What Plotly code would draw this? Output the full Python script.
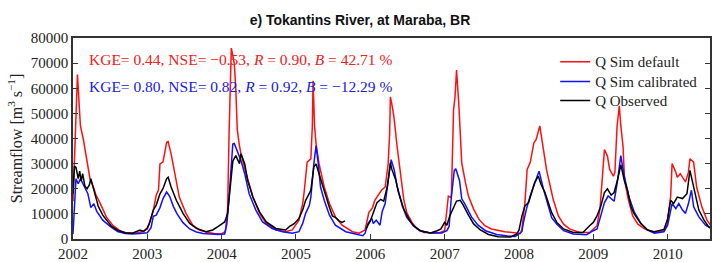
import plotly.graph_objects as go

# ---- data (decimal years, streamflow m3/s) ----
t_obs = [2002.00, 2002.02, 2002.04, 2002.07, 2002.09, 2002.11, 2002.13, 2002.16, 2002.19, 2002.22,
         2002.24, 2002.27, 2002.30, 2002.34, 2002.40, 2002.45, 2002.52, 2002.60, 2002.70, 2002.80,
         2002.86, 2002.90, 2002.95,
         2003.00, 2003.03, 2003.08, 2003.12, 2003.17, 2003.21, 2003.26, 2003.28, 2003.32, 2003.39,
         2003.48, 2003.57, 2003.66, 2003.79, 2003.88, 2003.95,
         2004.04, 2004.08, 2004.11, 2004.13, 2004.15, 2004.19, 2004.22, 2004.24, 2004.26, 2004.31,
         2004.35, 2004.42, 2004.51, 2004.60, 2004.73, 2004.86, 2004.91, 2004.98,
         2005.04, 2005.09, 2005.13, 2005.18, 2005.20, 2005.24, 2005.27, 2005.31, 2005.36, 2005.40,
         2005.45, 2005.49, 2005.53, 2005.58, 2005.62, 2005.66, 2005.80,
         2005.94, 2006.00, 2006.05, 2006.09, 2006.14, 2006.18, 2006.23, 2006.27, 2006.29, 2006.34,
         2006.38, 2006.45, 2006.52, 2006.58, 2006.67, 2006.81, 2006.90, 2006.95,
         2007.00, 2007.03, 2007.07, 2007.12, 2007.16, 2007.21, 2007.25, 2007.32, 2007.39, 2007.48,
         2007.59, 2007.72, 2007.89, 2007.97,
         2008.00, 2008.04, 2008.08, 2008.13, 2008.17, 2008.21, 2008.26, 2008.30, 2008.35, 2008.39,
         2008.44, 2008.51, 2008.60, 2008.73, 2008.86, 2008.95,
         2009.00, 2009.05, 2009.10, 2009.15, 2009.19, 2009.24, 2009.28, 2009.33, 2009.37, 2009.42,
         2009.46, 2009.51, 2009.55, 2009.64, 2009.73, 2009.82, 2009.95,
         2010.00, 2010.04, 2010.08, 2010.13, 2010.20, 2010.26, 2010.30, 2010.35, 2010.42, 2010.49,
         2010.55, 2010.60]
q_obs = [18000, 29000, 28500, 24000, 27000, 23000, 26000, 21000, 20000, 21500,
         24000, 21000, 17000, 13000, 9500, 7500, 5000, 3500, 2500, 2300,
         3200, 3600, 3000,
         4500, 6300, 11500, 13500, 18000, 20000, 24000, 24600, 20700, 15400,
         10200, 6200, 4200, 2900, 3600, 4900,
         6800, 10000, 20000, 26000, 31000, 33200, 31000, 30000, 33900, 30000,
         23300, 16700, 10800, 6800, 4200, 3600, 4900, 6200,
         8200, 11500, 15400, 18000, 19400, 28600, 29900, 26000, 21000, 16700,
         12500, 9200, 8600, 7200, 6600, 7200, None,
         4000, 7200, 11200, 14500, 15800, 15100, 21000, 30300, 27700, 23700,
         18500, 11900, 7900, 5300, 3300, 2400, 3300, 4000,
         6600, 5500, 9200, 12500, 15100, 15400, 13500, 9500, 6000, 3600,
         1800, 900, 800, 2000,
         3500, 9200, 13200, 14500, 18500, 22400, 25000, 21500, 18500, 14500,
         10500, 6600, 4000, 2600, 2600, 5300,
         6600, 9200, 13000, 18500, 20000, 17500, 18500, 24000, 29500, 23000,
         19400, 12500, 10000, 6200, 3600, 2900, 3800,
         8000, 15400, 14100, 16700, 16100, 18000, 27300, 20700, 11500, 7500,
         4900, 4000]

t_def = [2002.00, 2002.03, 2002.06, 2002.08, 2002.10, 2002.14, 2002.19, 2002.23, 2002.27, 2002.31,
         2002.36, 2002.45, 2002.54, 2002.63, 2002.72, 2002.85, 2002.94,
         2003.00, 2003.03, 2003.08, 2003.12, 2003.15, 2003.17, 2003.21, 2003.26, 2003.28, 2003.32,
         2003.37, 2003.43, 2003.52, 2003.61, 2003.70, 2003.80, 2003.90,
         2004.00, 2004.05, 2004.08, 2004.10, 2004.12, 2004.13, 2004.15, 2004.17, 2004.19, 2004.21,
         2004.24, 2004.26, 2004.33, 2004.42, 2004.51, 2004.60, 2004.73, 2004.86, 2004.95,
         2005.04, 2005.09, 2005.11, 2005.15, 2005.20, 2005.22, 2005.23, 2005.25, 2005.27, 2005.31,
         2005.33, 2005.38, 2005.45, 2005.53, 2005.62, 2005.76, 2005.85, 2005.93, 2005.98,
         2006.03, 2006.06, 2006.11, 2006.15, 2006.20, 2006.24, 2006.26, 2006.27, 2006.30, 2006.32,
         2006.36, 2006.41, 2006.45, 2006.49, 2006.56, 2006.63, 2006.72, 2006.85, 2006.94,
         2007.00, 2007.03, 2007.05, 2007.09, 2007.12, 2007.14, 2007.16, 2007.19, 2007.21, 2007.23,
         2007.28, 2007.32, 2007.39, 2007.46, 2007.54, 2007.63, 2007.81, 2007.94,
         2008.02, 2008.04, 2008.08, 2008.11, 2008.15, 2008.20, 2008.23, 2008.28, 2008.31, 2008.35,
         2008.37, 2008.42, 2008.46, 2008.53, 2008.60, 2008.68, 2008.82, 2008.95,
         2009.00, 2009.05, 2009.09, 2009.12, 2009.15, 2009.19, 2009.22, 2009.27, 2009.29, 2009.32,
         2009.35, 2009.37, 2009.40, 2009.42, 2009.47, 2009.53, 2009.60, 2009.69, 2009.82, 2009.95,
         2009.99, 2010.04, 2010.06, 2010.11, 2010.13, 2010.17, 2010.24, 2010.28, 2010.30, 2010.35,
         2010.39, 2010.46, 2010.53, 2010.60]
q_def = [15000, 42000, 65500, 55000, 45000, 39500, 30000, 23700, 21000, 17500,
         14600, 8700, 5300, 3300, 2400, 2400, 3000,
         4000, 6700, 11200, 17500, 19500, 29900, 30600, 38500, 38800, 33900,
         26000, 16700, 10200, 5500, 3600, 2700, 2200,
         2000, 3000, 12000, 42000, 70000, 76000, 73000, 69800, 60000, 43500,
         37000, 33900, 26000, 16700, 10200, 6200, 3600, 2900, 3600,
         7500, 14100, 18700, 30600, 31900, 45000, 63000, 45000, 38000, 30000,
         27300, 20700, 14100, 8800, 5500, 2900, 2300, 3600, 10500,
         12500, 15400, 17400, 19400, 20700, 29900, 42000, 56600, 52000, 48000,
         36900, 23700, 15800, 10500, 6600, 4000, 2600, 2400, 2600,
         3300, 11900, 17100, 16500, 51400, 56600, 67200, 54000, 39500, 30300,
         22400, 17100, 11900, 7900, 5300, 4000, 2900, 2400,
         2200, 4000, 14500, 27700, 30300, 38200, 39500, 45000, 39500, 31600,
         27700, 21100, 15800, 9200, 5900, 4000, 2600, 2600,
         4000, 5300, 12000, 25000, 35600, 33000, 27700, 25000, 26300, 45000,
         53000, 45000, 36900, 23700, 15800, 9200, 5900, 4000, 2600, 3300,
         5500, 16700, 30000, 26600, 24600, 26000, 22700, 26600, 31900, 30600,
         20700, 12800, 7500, 4500]

t_cal = [2002.00, 2002.02, 2002.04, 2002.07, 2002.10, 2002.15, 2002.20, 2002.24, 2002.28, 2002.32,
         2002.40, 2002.50, 2002.60, 2002.70, 2002.80, 2002.90, 2002.95,
         2003.00, 2003.05, 2003.08, 2003.12, 2003.17, 2003.21, 2003.26, 2003.30, 2003.35, 2003.40,
         2003.48, 2003.57, 2003.66, 2003.75, 2003.85, 2003.95,
         2004.04, 2004.07, 2004.10, 2004.15, 2004.17, 2004.22, 2004.26, 2004.31, 2004.37, 2004.46,
         2004.55, 2004.68, 2004.82, 2004.95,
         2005.04, 2005.09, 2005.13, 2005.18, 2005.20, 2005.24, 2005.27, 2005.30, 2005.33, 2005.38,
         2005.45, 2005.53, 2005.67, 2005.80, 2005.90, 2005.93, 2005.97,
         2006.02, 2006.04, 2006.08, 2006.13, 2006.16, 2006.20, 2006.24, 2006.28, 2006.32, 2006.36,
         2006.43, 2006.49, 2006.58, 2006.67, 2006.81, 2006.96,
         2007.03, 2007.06, 2007.09, 2007.13, 2007.15, 2007.20, 2007.23, 2007.27, 2007.36, 2007.45,
         2007.55, 2007.70, 2007.85, 2007.95,
         2008.00, 2008.04, 2008.06, 2008.10, 2008.15, 2008.20, 2008.27, 2008.33, 2008.37, 2008.44,
         2008.51, 2008.60, 2008.73, 2008.91,
         2009.00, 2009.05, 2009.10, 2009.15, 2009.20, 2009.24, 2009.28, 2009.32, 2009.37, 2009.41,
         2009.48, 2009.55, 2009.64, 2009.73, 2009.82, 2009.95,
         2010.00, 2010.06, 2010.11, 2010.15, 2010.20, 2010.24, 2010.28, 2010.32, 2010.35, 2010.42,
         2010.51, 2010.60]
q_cal = [2000, 15000, 24000, 22000, 24000, 21000, 18000, 12500, 14000, 11000,
         7500, 5000, 3000, 2200, 2000, 2200, 2500,
         2500, 4500, 9000, 9500, 12500, 16000, 18700, 17000, 13000, 10000,
         6500, 4000, 2800, 2200, 2000, 1800,
         2000, 6000, 16700, 37800, 38000, 33900, 31200, 26000, 18000, 11500,
         6800, 4200, 2900, 2300,
         2900, 6200, 10200, 13400, 16700, 29900, 37200, 29900, 20700, 15400,
         9500, 5500, 2900, 2000, 1300, 2300, 6200,
         8200, 6200, 7500, 5500, 11000, 14100, 23300, 31600, 27700, 21100,
         13200, 8600, 5300, 3300, 2400, 2400,
         3300, 5000, 16700, 27300, 28000, 23300, 16000, 14100, 8800, 5500,
         3300, 1800, 1200, 1000,
         2000, 3000, 6600, 11900, 17100, 21100, 27000, 19800, 15800, 8500,
         5900, 3300, 2000, 1700,
         3300, 4000, 9200, 14500, 17100, 16000, 15000, 22000, 33200, 26000,
         16700, 10800, 6200, 3600, 2300, 2900,
         5500, 14100, 12100, 14100, 11500, 10200, 14100, 19400, 12800, 8800,
         5500, 4000]

year_ticks = [2002, 2003, 2004, 2005, 2006, 2007, 2008, 2009, 2010]
flow_ticks = [0, 10000, 20000, 30000, 40000, 50000, 60000, 70000, 80000]

assert len(t_obs) == len(q_obs) and len(t_def) == len(q_def) and len(t_cal) == len(q_cal)

SERIF = "Liberation Serif, Times New Roman, serif"
H = 262
TOP, BOT = 38, 22
PLOT_H = H - TOP - BOT


def py(pixel_y):
    """pixel row (from top of figure) -> paper y"""
    return (H - BOT - pixel_y) / PLOT_H


fig = go.Figure()
fig.add_trace(go.Scatter(x=t_def, y=q_def, mode="lines", name="Q Sim default",
                         line=dict(color="#ff1010", width=1.5), legend="legend"))
fig.add_trace(go.Scatter(x=t_cal, y=q_cal, mode="lines", name="Q Sim calibrated",
                         line=dict(color="#1010ff", width=1.5), legend="legend2"))
fig.add_trace(go.Scatter(x=t_obs, y=q_obs, mode="lines", name="Q Observed",
                         line=dict(color="black", width=1.5), connectgaps=False, legend="legend3"))

leg_common = dict(x=0.757, xanchor="left", yanchor="middle", bgcolor="rgba(0,0,0,0)",
                  font=dict(family=SERIF, size=15, color="#222"), itemwidth=30,
                  borderwidth=0)

fig.update_layout(
    width=712, height=H,
    margin=dict(l=73, r=0, t=TOP, b=BOT, pad=0),
    paper_bgcolor="white", plot_bgcolor="white",
    title=dict(text="<b>e) Tokantins River, at Maraba, BR</b>", x=360 / 712, xref="container",
               xanchor="center", y=1 - 20 / H, yanchor="middle",
               font=dict(family="Liberation Sans, Arial, sans-serif", size=14, color="#111")),
    showlegend=True,
    legend=dict(y=py(62), **leg_common),
    legend2=dict(y=py(82), **leg_common),
    legend3=dict(y=py(101), **leg_common),
    xaxis=dict(range=[2002, 2010.57], tickvals=year_ticks, ticktext=[str(y) for y in year_ticks],
               showgrid=False, zeroline=False, showline=True, linecolor="#333", linewidth=1.5,
               mirror=True, ticks="inside", ticklen=5, tickcolor="#333",
               tickfont=dict(family=SERIF, size=15, color="#222")),
    yaxis=dict(range=[0, 80000], tickvals=flow_ticks, ticktext=[str(v) for v in flow_ticks],
               showgrid=False, zeroline=False, showline=True, linecolor="#333", linewidth=1.5,
               mirror="ticks", ticks="inside", ticklen=5, tickcolor="#333",
               tickfont=dict(family=SERIF, size=15, color="#222"),
               title=dict(text="Streamflow [m<sup>3</sup> s<sup>\u22121</sup>]", standoff=4,
                          font=dict(family=SERIF, size=16, color="#222"))),
)

fig.add_annotation(x=0.022, y=py(60), xref="paper", yref="paper", xanchor="left", yanchor="middle",
                   showarrow=False, align="left",
                   text="KGE= 0.44, NSE= \u22120.53, <i>R</i> = 0.90, <i>B</i> = 42.71 %",
                   font=dict(family=SERIF, size=15.5, color="#ee2020"))
fig.add_annotation(x=0.022, y=py(86.5), xref="paper", yref="paper", xanchor="left", yanchor="middle",
                   showarrow=False, align="left",
                   text="KGE= 0.80, NSE= 0.82, <i>R</i> = 0.92, <i>B</i> = \u221212.29 %",
                   font=dict(family=SERIF, size=15.5, color="#2020dd"))

fig.write_html("out.html", config={"displayModeBar": False},
               post_script="document.body.style.margin='0';")
